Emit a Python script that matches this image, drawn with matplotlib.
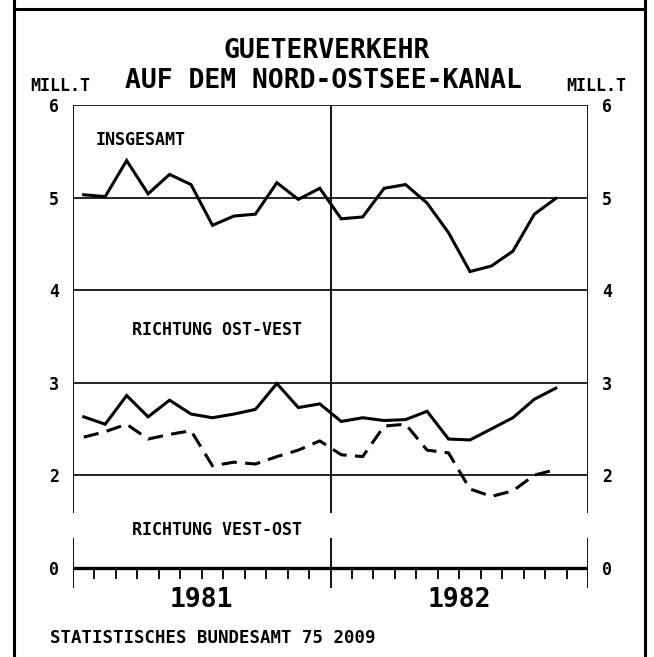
import numpy as np
import matplotlib
matplotlib.use("Agg")
import matplotlib.pyplot as plt
from matplotlib.lines import Line2D

# monthly values, Jan 1981 - Nov 1982 (mill. t)
insgesamt = [5.03, 5.01, 5.40, 5.04, 5.25, 5.14, 4.70, 4.80, 4.82, 5.16, 4.98, 5.10,
             4.77, 4.79, 5.10, 5.14, 4.94, 4.62, 4.20, 4.26, 4.42, 4.82, 4.99]
ost_west = [2.63, 2.55, 2.86, 2.63, 2.81, 2.66, 2.62, 2.66, 2.71, 2.99, 2.73, 2.77,
            2.58, 2.62, 2.59, 2.60, 2.69, 2.39, 2.38, 2.50, 2.62, 2.82, 2.94]
west_ost = [2.41, 2.47, 2.55, 2.39, 2.44, 2.48, 2.10, 2.14, 2.12, 2.20, 2.27, 2.37,
            2.22, 2.20, 2.53, 2.55, 2.27, 2.24, 1.85, 1.77, 1.83, 2.00, 2.06]
years = ['1981', '1982']
grid_levels = [2, 3, 4, 5, 6]
ytick_pos = [1, 2, 3, 4, 5, 6]
ytick_labels = ['0', '2', '3', '4', '5', '6']   # broken axis: 0 sits below the gap

plt.rcParams['font.family'] = 'DejaVu Sans Mono'
plt.rcParams['font.weight'] = 'bold'
plt.rcParams['lines.scale_dashes'] = False

W, H = 654, 657
fig = plt.figure(figsize=(W / 100, H / 100), dpi=100)

def fx(x):
    return x / W

def fy(y):
    return 1 - y / H

# outer frame
for x in (14, 645):
    fig.add_artist(Line2D([fx(x), fx(x)], [0, 1], color='black', lw=2.2))
fig.add_artist(Line2D([fx(14), fx(645)], [fy(9), fy(9)], color='black', lw=2.2))

ax = fig.add_axes([fx(73), fy(588), fx(588) - fx(73), fy(105) - fy(588)])
ax.set_xlim(0, 24)
ax.set_ylim(0.78, 6)
for s in ax.spines.values():
    s.set_visible(False)

ax.set_xticks([])
ax.set_yticks(ytick_pos, labels=ytick_labels)
ax.tick_params(axis='y', length=0, pad=10, labelsize=12, labelright=True)

x = np.arange(len(insgesamt)) + 0.5

# grid
ax.hlines(grid_levels, 0, 24, color='black', lw=1.2)
ax.hlines(1, 0, 24, color='black', lw=2.4)
for xv in (0, 12, 24):
    ax.vlines(xv, 1.59, 6, color='black', lw=1.3)
    ax.vlines(xv, 0.78, 1.32, color='black', lw=1.3)
ax.vlines([m for m in range(1, 24) if m != 12], 0.88, 1, color='black', lw=1.3)

ax.plot(x, insgesamt, color='black', lw=2.2, solid_joinstyle='miter')
ax.plot(x, ost_west, color='black', lw=2.2, solid_joinstyle='miter')
ax.plot(x, west_ost, color='black', lw=2.2, dashes=(11, 6))

ax.text(1.07, 5.62, 'INSGESAMT', fontsize=12, va='center', ha='left')
ax.text(2.75, 3.57, 'RICHTUNG OST-VEST', fontsize=12, va='center', ha='left')
ax.text(2.75, 1.405, 'RICHTUNG VEST-OST', fontsize=12, va='center', ha='left')
for i, yr in enumerate(years):
    ax.text(6 + 12 * i, 0.65, yr, fontsize=19, ha='center', va='center', clip_on=False)

fig.text(fx(327), fy(51), 'GUETERVERKEHR', fontsize=19, ha='center', va='center')
fig.text(fx(323), fy(81), 'AUF DEM NORD-OSTSEE-KANAL', fontsize=19, ha='center', va='center')
fig.text(fx(30), fy(86), 'MILL.T', fontsize=12, ha='left', va='center')
fig.text(fx(566), fy(86), 'MILL.T', fontsize=12, ha='left', va='center')
fig.text(fx(50), fy(638), 'STATISTISCHES BUNDESAMT 75 2009', fontsize=12.5,
         ha='left', va='center')

fig.savefig('out.png', dpi=100)
